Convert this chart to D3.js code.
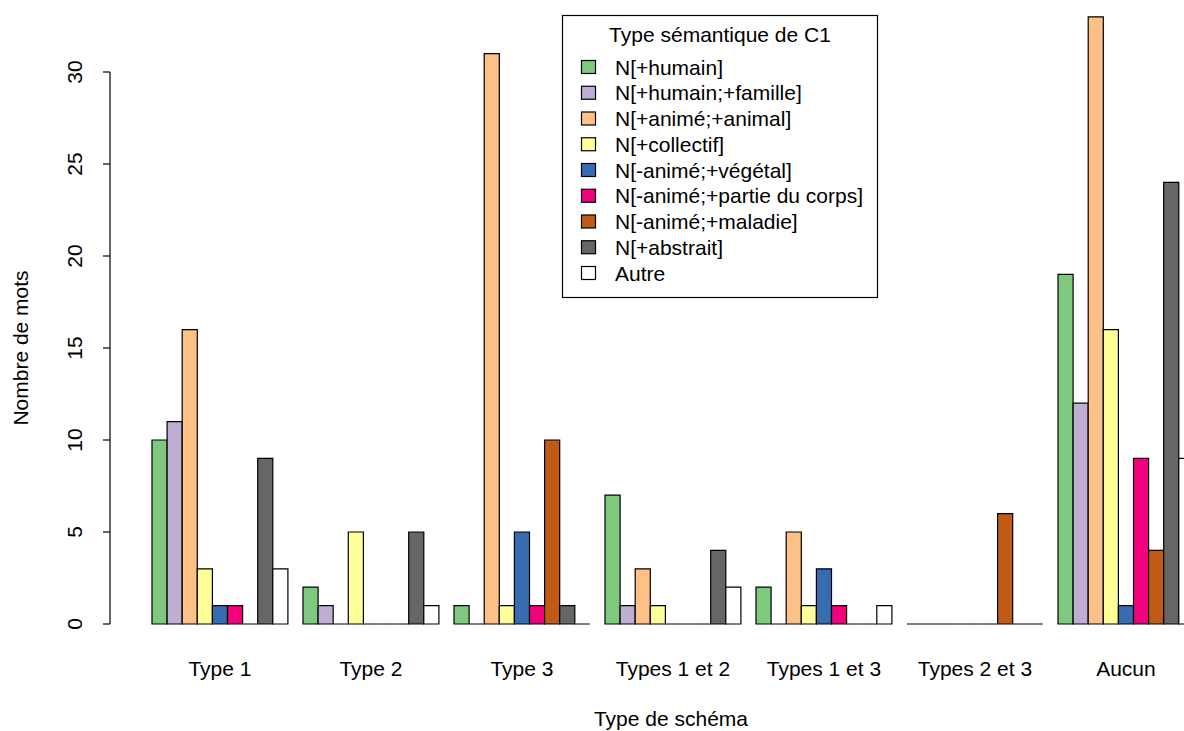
<!DOCTYPE html>
<html><head><meta charset="utf-8">
<script src="https://cdn.jsdelivr.net/npm/d3@7"></script>
<style>body{margin:0;background:#fff}svg{display:block;font-family:"Liberation Sans",Arial,sans-serif}</style>
</head><body><svg id="c" width="1184" height="731"></svg>
<script>
const groups = ["Type 1","Type 2","Type 3","Types 1 et 2","Types 1 et 3","Types 2 et 3","Aucun"];
const seriesNames = ["N[+humain]","N[+humain;+famille]","N[+animé;+animal]","N[+collectif]","N[-animé;+végétal]","N[-animé;+partie du corps]","N[-animé;+maladie]","N[+abstrait]","Autre"];
const colors = ["#7FC97F","#BEAED4","#FDC086","#FFFF99","#386CB0","#F0027F","#BF5B17","#666666","#FFFFFF"];
const values = [
  [10,11,16,3,1,1,0,9,3],
  [2,1,0,5,0,0,0,5,1],
  [1,0,31,1,5,1,10,1,0],
  [7,1,3,1,0,0,0,4,2],
  [2,0,5,1,3,1,0,0,1],
  [0,0,0,0,0,0,6,0,0],
  [19,12,33,16,1,9,4,24,9]
];
const yTicks = [0,5,10,15,20,25,30];
const legendTitle = "Type sémantique de C1";
const xTitle = "Type de schéma";
const yTitle = "Nombre de mots";

const FS = 21;
const svg = d3.select("#c");
const nS = seriesNames.length;
const unitsPerGroup = nS + 1;
const x = d3.scaleLinear().domain([0, groups.length*unitsPerGroup]).range([136.9, 136.9 + groups.length*unitsPerGroup*15.1]);
const y = d3.scaleLinear().domain([0,30]).range([624,72]);

const bars = [];
values.forEach((row,i)=>row.forEach((v,j)=>bars.push({i,j,v})));
svg.append("g").selectAll("path").data(bars).join("path")
  .attr("d", d=>{
    const x0 = x(d.i*unitsPerGroup+1+d.j), x1 = x(d.i*unitsPerGroup+2+d.j);
    const y0 = y(0), y1 = y(d.v);
    return `M${x0},${y0}H${x1}V${y1}H${x0}Z`;
  })
  .attr("fill", d=>colors[d.j])
  .attr("stroke","#000").attr("stroke-width",1.2);

// y axis
const ya = svg.append("g");
ya.append("line").attr("x1",110).attr("x2",110).attr("y1",y(0)).attr("y2",y(30)).attr("stroke","#000").attr("stroke-width",1.2);
yTicks.forEach(t=>{
  ya.append("line").attr("x1",103).attr("x2",110).attr("y1",y(t)).attr("y2",y(t)).attr("stroke","#000").attr("stroke-width",1.2);
  ya.append("text").attr("transform",`translate(82,${y(t)}) rotate(-90)`).attr("text-anchor","middle")
    .attr("font-size",FS).text(t);
});
svg.append("text").attr("transform","translate(28,348) rotate(-90)").attr("text-anchor","middle").attr("font-size",FS).text(yTitle);

// group labels
svg.append("g").selectAll("text").data(groups).join("text")
  .attr("x",(d,i)=>x(i*unitsPerGroup+1+nS/2)).attr("y",676)
  .attr("text-anchor","middle").attr("font-size",FS).text(d=>d);
svg.append("text").attr("x",671).attr("y",726).attr("text-anchor","middle").attr("font-size",FS).text(xTitle);

// legend
const lg = svg.append("g");
lg.append("rect").attr("x",562.5).attr("y",15.5).attr("width",315).attr("height",282).attr("fill","#fff").attr("stroke","#000").attr("stroke-width",1.2);
lg.append("text").attr("x",720).attr("y",42).attr("text-anchor","middle").attr("font-size",FS).text(legendTitle);
seriesNames.forEach((s,k)=>{
  const cy = 67 + k*25.75;
  lg.append("rect").attr("x",581.5).attr("y",cy-6.5).attr("width",14).attr("height",13).attr("fill",colors[k]).attr("stroke","#000").attr("stroke-width",1.2);
  lg.append("text").attr("x",615).attr("y",cy+7.5).attr("font-size",FS).text(s);
});
</script></body></html>
